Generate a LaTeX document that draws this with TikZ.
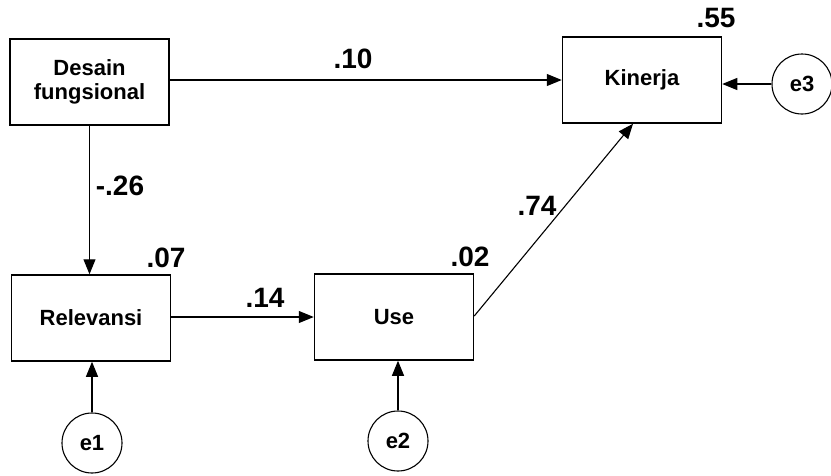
\documentclass[tikz,border=0pt]{standalone}
\usepackage{fontspec}
\setmainfont{Liberation Sans}
\usetikzlibrary{arrows.meta}
\begin{document}
\begin{tikzpicture}[x=1pt,y=-1pt,
  box/.style={draw,line width=1.5pt,minimum width=159pt,minimum height=86pt,inner sep=0pt,align=center,font=\fontsize{22}{24}\selectfont\bfseries},
  err/.style={draw,circle,line width=1.1pt,minimum size=60pt,inner sep=0pt,font=\fontsize{22}{24}\selectfont\bfseries},
  lbl/.style={font=\fontsize{28}{30}\selectfont\bfseries,inner sep=0pt},
  arr/.style={line width=1.1pt,-{Triangle[length=15pt,width=12pt]}}]
\useasboundingbox (0,0) rectangle (831,475);
\node[box] (des) at (89.5,82) {Desain\\fungsional};
\node[box] (kin) at (642,80) {Kinerja};
\node[box] (rel) at (91,318) {Relevansi};
\node[box] (use) at (394,317) {Use};
\node[err] (e3) at (802,84) {e3};
\node[err] (e1) at (92,443) {e1};
\node[err] (e2) at (398,441) {e2};
\coordinate (kinin) at ([xshift=-9pt]kin.south);
\draw[arr] (des.east |- kin.west) -- (kin.west);
\draw[arr] (des.south) -- (des.south |- rel.north);
\draw[arr] (rel.east |- use.west) -- (use.west);
\draw[arr] ([yshift=1pt]use.east) -- (kinin);
\draw[arr] (e3) -- (kin.east |- e3);
\draw[arr] (e1) -- (rel.south -| e1);
\draw[arr] (e2) -- (use.south -| e2);
\node[lbl] (l55) at (716,18) {.55};
\node[lbl] (l07) at (166,258) {.07};
\node[lbl] (l02) at (470,257) {.02};
\node[lbl] (l10) at (353,59) {.10};
\node[lbl] (l26) at (120,186) {-.26};
\node[lbl] (l14) at (265,298) {.14};
\node[lbl] (l74) at (537,206) {.74};
\end{tikzpicture}
\end{document}
